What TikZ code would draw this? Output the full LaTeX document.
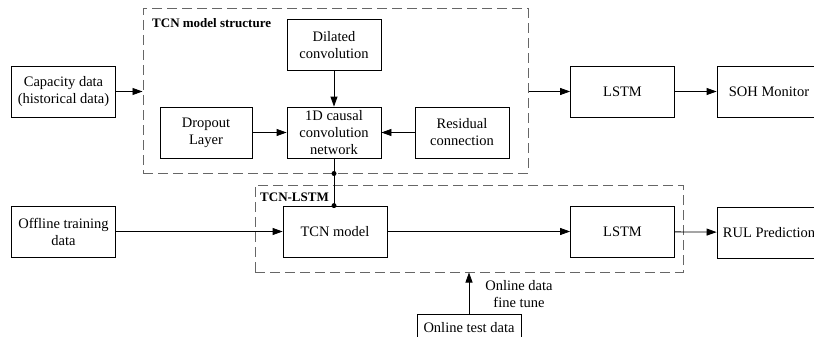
\documentclass[tikz,border=0pt]{standalone}
\usepackage{fontspec}
\setmainfont{Liberation Serif}
\usetikzlibrary{arrows.meta}

\tikzset{
	block/.style={draw, line width=0.8pt, minimum width=104pt, minimum height=51pt,
		inner sep=0pt, align=center, font=\fontsize{14.5}{17}\selectfont},
	group/.style={draw=black!60, line width=1pt, dash pattern=on 10pt off 5pt,
		inner sep=0pt},
	flow/.style={-{Triangle[length=10pt,width=7pt]}, line width=0.8pt},
	dot/.style={circle, fill, inner sep=0pt, minimum size=5pt},
	grouptitle/.style={anchor=west, inner sep=0pt, font=\fontsize{13}{15}\selectfont\bfseries}
}

\begin{document}
\begin{tikzpicture}[x=1pt, y=-1pt]
	\useasboundingbox (0,0) rectangle (814,337);
	\clip (0,0) rectangle (814,337);

	% TCN part
	\node[group, minimum width=385pt, minimum height=164pt] (tcnbox) at (335.5,91) {};
	\node[grouptitle] (tcntitle) at (152,23) {TCN model structure};
	\node[block, minimum width=94pt] (dil) at (334,45) {Dilated\\convolution};
	\node[block, minimum width=94pt] (causal) at (334,132.5) {1D causal\\convolution\\network};
	\node[block, minimum width=92pt] (drop) at (206,132.5) {Dropout\\Layer};
	\node[block, minimum width=94pt] (res) at (462,132.5) {Residual\\connection};
	\draw[flow] (dil) -- (causal);
	\draw[flow] (drop) -- (causal);
	\draw[flow] (res) -- (causal);

	\node[block] (cap) at (63.5,91.5) {Capacity data\\(historical data)};
	\node[block] (lstm1) at (622.5,91.5) {LSTM};
	\node[block] (soh) at (769,91.5) {SOH Monitor};
	\draw[flow] (cap) -- (cap.east -| tcnbox.west);
	\draw[flow] (cap.east -| tcnbox.east) -- (lstm1);
	\draw[flow] (lstm1) -- (soh);

	% TCN-LSTM part
	\node[group, minimum width=428pt, minimum height=87pt] (mixbox) at (469,228.5) {};
	\node[grouptitle] (mixtitle) at (260,197) {TCN-LSTM};
	\node[block] (offline) at (63.5,231.5) {Offline training\\data};
	\node[block] (tcn) at (335,231.5) {TCN model};
	\node[block] (lstm2) at (622.5,231.5) {LSTM};
	\node[block] (rul) at (769,232.5) {RUL Prediction};
	\draw[flow] (offline) -- (tcn);
	\draw[flow] (tcn) -- (lstm2);
	\draw[flow] (lstm2) -- (rul);

	\coordinate (join) at (causal.south |- tcnbox.south);
	\coordinate (entry) at (causal.south |- tcn.north);
	\draw[line width=0.8pt] (causal.south) -- (entry);
	\node[dot] at (join) {};
	\node[dot] at (entry) {};

	\node[block, minimum height=28pt] (online) at (469,328) {Online test data};
	\draw[flow] (online.north) -- (online.north |- mixbox.south);
	\node[align=center, inner sep=0pt, font=\fontsize{14.5}{17}\selectfont] (tune) at (519,294) {Online data\\fine tune};
\end{tikzpicture}
\end{document}
